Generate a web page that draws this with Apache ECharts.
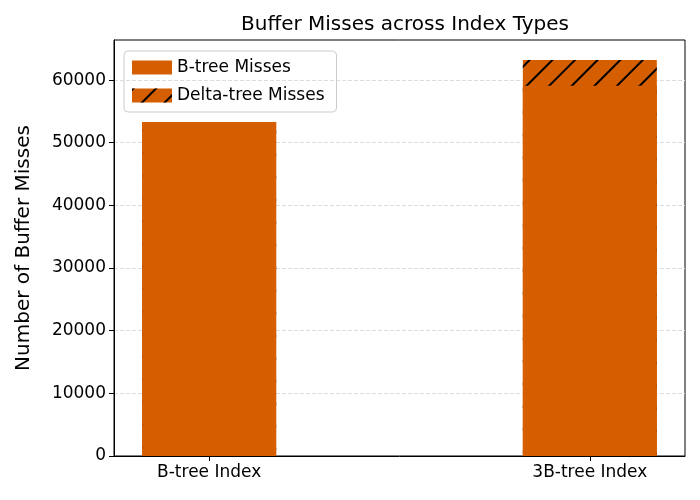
<!DOCTYPE html>
<html>
<head>
<meta charset="utf-8">
<script src="https://cdn.jsdelivr.net/npm/echarts@6/dist/echarts.min.js"></script>
<style>html,body{margin:0;padding:0;background:#fff}#chart{width:700px;height:500px}</style>
</head>
<body>
<div id="chart"></div>
<script>
var categories = ['B-tree Index', '3B-tree Index'];
var btreeMisses = [53300, 59100];
var deltaMisses = [0, 4100];

var chart = echarts.init(document.getElementById('chart'));
var font = 'DejaVu Sans';
chart.setOption({
    animation: false,
    textStyle: {fontFamily: font},
    title: {text: 'Buffer Misses across Index Types', left: 400, top: 10, textAlign: 'center',
        textStyle: {fontSize: 20, fontWeight: 'normal', color: '#000', fontFamily: font}},
    grid: {left: 114, right: 15, top: 40, bottom: 44, show: true, borderColor: '#000', borderWidth: 1},
    legend: {
        left: 124, top: 51, orient: 'vertical', itemWidth: 40, itemHeight: 14, itemGap: 11,
        icon: 'rect', padding: [8, 12, 8, 8], borderColor: '#ccc', borderWidth: 1, borderRadius: 4,
        textStyle: {fontSize: 17, color: '#000', fontFamily: font},
        data: ['B-tree Misses', 'Delta-tree Misses']
    },
    xAxis: {
        type: 'value', min: -0.25, max: 1.25,
        splitLine: {show: false},
        axisLine: {onZero: false, lineStyle: {color: '#000'}},
        axisTick: {show: true, customValues: [0, 1], length: 5, lineStyle: {color: '#000'}},
        axisLabel: {customValues: [0, 1], fontSize: 17, color: '#000', margin: 8,
            formatter: function (v) { return categories[Math.round(v)]; }}
    },
    yAxis: {
        type: 'value', min: 0, max: 66400, interval: 10000,
        name: 'Number of Buffer Misses', nameLocation: 'middle', nameGap: 80,
        nameTextStyle: {fontSize: 20, color: '#000', fontFamily: font},
        axisLine: {show: true, onZero: false, lineStyle: {color: '#000'}},
        axisTick: {show: true, length: 5, lineStyle: {color: '#000'}},
        axisLabel: {fontSize: 17, color: '#000', showMaxLabel: false,
            formatter: function (v) { return String(v); }},
        splitLine: {showMaxLine: false, lineStyle: {type: 'dashed', color: '#ddd'}}
    },
    series: [{
        name: 'Delta-tree Misses', type: 'bar', barWidth: 134, barGap: '-100%',
        itemStyle: {color: '#d55e00', decal: {symbol: 'rect', color: '#000',
            dashArrayX: [1, 0], dashArrayY: [2, 14], rotation: -Math.PI / 4}},
        data: btreeMisses.map(function (v, i) { return [i, v + deltaMisses[i]]; })
    }, {
        name: 'B-tree Misses', type: 'bar', barWidth: 134, barGap: '-100%',
        itemStyle: {color: '#d55e00'},
        data: btreeMisses.map(function (v, i) { return [i, v]; })
    }]
});
</script>
</body>
</html>
